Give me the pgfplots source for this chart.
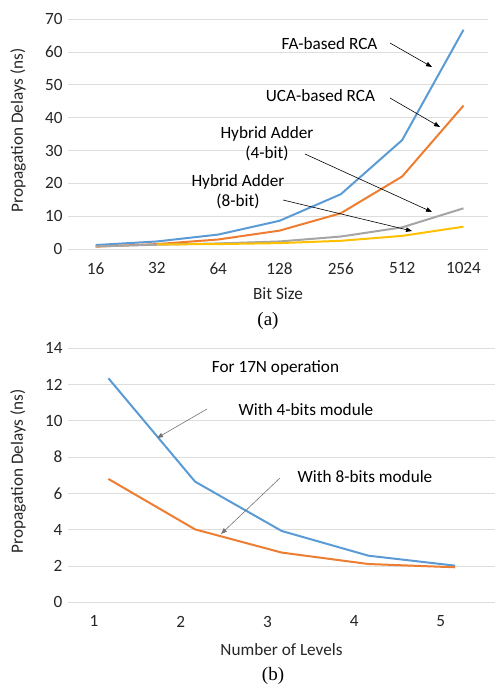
\documentclass[border=0pt]{standalone}
\usepackage{fontspec}
\setmainfont{Carlito}
\newfontfamily\tnr{Liberation Serif}
\usepackage{pgfplots}
\pgfplotsset{compat=1.18}
\usetikzlibrary{arrows.meta}
\definecolor{xlblue}{HTML}{5B9BD5}
\definecolor{xlorange}{HTML}{ED7D31}
\definecolor{xlgray}{HTML}{A5A5A5}
\definecolor{xlyellow}{HTML}{FFC000}
\definecolor{gridc}{HTML}{DDDDDD}
\newcommand{\tA}{\fontsize{17.2}{20}\selectfont}

\pgfplotsset{
  xlstyle/.style={
    scale only axis,
    axis line style={draw=none},
    tick style={draw=none},
    ymajorgrids, grid style={draw=gridc,line width=1pt},
    tick label style={font=\tA,text=black!85},
    label style={font=\tA,text=black!85},
    /pgf/number format/assume math mode=true,
    every axis y label/.style={at={(rel axis cs:0,0.5)},xshift=-50pt,yshift=4pt,rotate=90,anchor=center,font=\tA,text=black!85},
    clip=false,
  },
}

\begin{document}
\begin{tikzpicture}
\path[use as bounding box] (0pt,0pt) rectangle (496pt,-689pt);
% ---------- (a) ----------
\begin{axis}[xlstyle,
  at={(68pt,-19.3pt)}, anchor=north west,
  width=420pt, height=229.7pt,
  xmin=-0.45, xmax=6.4, ymin=0, ymax=70,
  xtick={0,...,6}, xticklabels={16,32,64,128,256,512,1024},
  ytick={0,10,...,70},
  xticklabel style={yshift=-10pt},
  yticklabel style={xshift=-2pt},
  xlabel={Bit Size}, xlabel style={yshift=-6pt},
  ylabel={Propagation Delays (ns)},
]
\addplot[xlblue,line width=2pt] coordinates {(0,1.2) (1,2.3) (2,4.4) (3,8.6) (4,16.7) (5,33.2) (6,66.8)};
\addplot[xlorange,line width=2pt] coordinates {(0,0.7) (1,1.5) (2,2.9) (3,5.6) (4,10.9) (5,22.1) (6,43.7)};
\addplot[xlgray,line width=2pt] coordinates {(0,0.8) (1,1.3) (2,1.7) (3,2.3) (4,3.8) (5,6.6) (6,12.4)};
\addplot[xlyellow,line width=2pt] coordinates {(1,1.4) (2,1.5) (3,1.8) (4,2.5) (5,4.0) (6,6.8)};
\end{axis}
\begin{scope}[x=1pt,y=1pt]
\node[font=\tA] at (329.5,-44) {FA-based RCA};
\node[font=\tA] at (320.5,-96) {UCA-based RCA};
\node[font=\tA,align=center] at (267,-144) {Hybrid Adder\\(4-bit)};
\node[font=\tA,align=center] at (238,-192) {Hybrid Adder\\(8-bit)};
\draw[-{Triangle[length=6pt,width=4.5pt]},black,line width=0.6pt] (390,-43) -- (432,-67);
\draw[-{Triangle[length=6pt,width=4.5pt]},black,line width=0.6pt] (390,-98) -- (440,-127);
\draw[-{Triangle[length=6pt,width=4.5pt]},black,line width=0.6pt] (305,-154) -- (432,-212);
\draw[-{Triangle[length=6pt,width=4.5pt]},black,line width=0.6pt] (283,-200) -- (412,-231);
\node[font=\tnr\fontsize{19}{22}\selectfont] at (268,-321) {(a)};
\end{scope}
% ---------- (b) ----------
\begin{axis}[xlstyle,
  at={(68pt,-348.3pt)}, anchor=north west,
  width=427pt, height=254pt,
  xmin=0.534, xmax=5.46, ymin=0, ymax=14,
  xtick={1,...,5},
  ytick={0,2,...,14},
  xticklabel style={yshift=-10pt,xshift=-14.3pt},
  yticklabel style={xshift=-2pt},
  xlabel={Number of Levels}, xlabel style={yshift=-10pt},
  ylabel={Propagation Delays (ns)},
]
\addplot[xlblue,line width=2pt] coordinates {(1,12.35) (2,6.65) (3,3.93) (4,2.57) (5,2.02)};
\addplot[xlorange,line width=2pt] coordinates {(1,6.8) (2,4.02) (3,2.74) (4,2.11) (5,1.93)};
\end{axis}
\begin{scope}[x=1pt,y=1pt]
\node[font=\tA] at (275.5,-368) {For 17N operation};
\node[font=\tA] at (306,-410) {With 4-bits module};
\node[font=\tA] at (365,-477) {With 8-bits module};
\draw[-{Triangle[length=6pt,width=4.5pt]},black!55,line width=0.6pt] (207,-409) -- (157,-438);
\draw[-{Triangle[length=6pt,width=4.5pt]},black!55,line width=0.6pt] (280,-478) -- (221,-534);
\node[font=\tnr\fontsize{19}{22}\selectfont] at (273,-676) {(b)};
\end{scope}
\end{tikzpicture}
\end{document}
